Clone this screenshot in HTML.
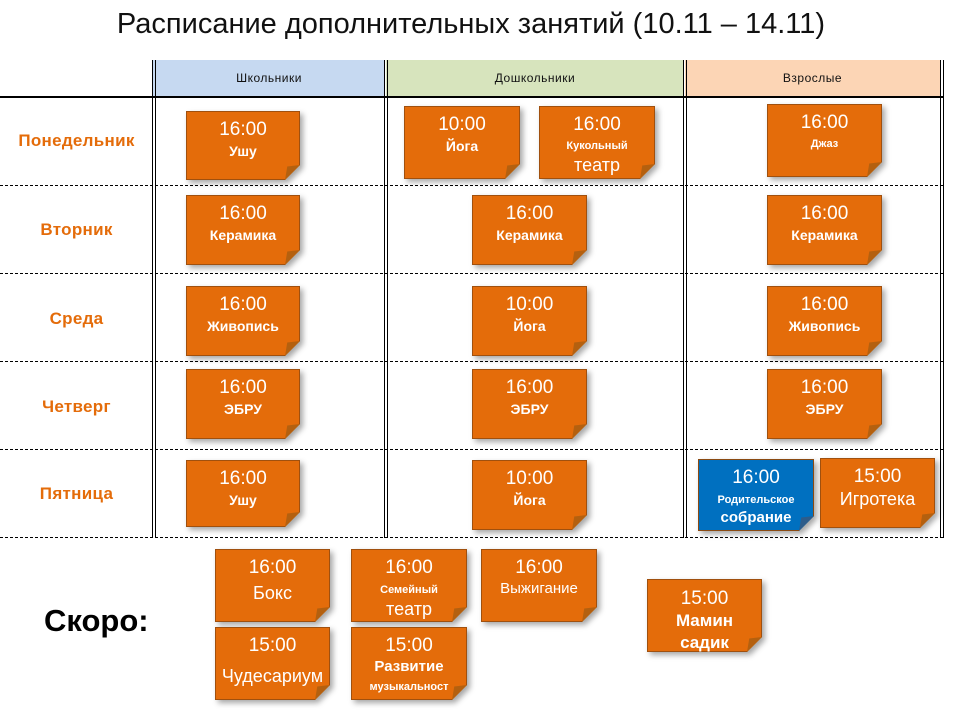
<!DOCTYPE html>
<html><head><meta charset="utf-8"><style>
body{margin:0;width:960px;height:720px;background:#fff;position:relative;overflow:hidden;font-family:"Liberation Sans","DejaVu Sans",sans-serif}
.a{position:absolute}
.title{left:-9px;width:960px;top:8px;text-align:center;font-size:29px;color:#111}
.hd{top:60px;height:37px;font-size:12px;text-align:center;line-height:37px;color:#111;letter-spacing:.5px}
.vl{width:1px;background:#000}
.dl{height:0;border-top:1px dashed #000;left:0;width:943px}
.day{left:0;width:153px;text-align:center;color:#e46c0a;font-weight:bold;font-size:17px;letter-spacing:.3px}
.w{position:absolute;filter:drop-shadow(3px 3px 3px rgba(0,0,0,.35))}
.n{position:absolute;inset:0;background:#e46c0a;border:1px solid #a0500e;box-sizing:border-box;clip-path:polygon(0 0,100% 0,100% calc(100% - 15px),calc(100% - 15px) 100%,0 100%);color:#fff;text-align:center}
.n.b{background:#0070c0;border-color:#8a4a12}
.f2{position:absolute;right:0;bottom:0;width:15px;height:15px;background:#b4600f;clip-path:polygon(100% 0,0 100%,15% 10%)}
.t{font-size:19px;margin-top:7px;line-height:22px}
.l{font-size:14px;font-weight:bold;line-height:20px}
.s{font-size:11px;font-weight:bold;line-height:16px}
.big{font-size:18px;line-height:22px;font-weight:normal}
</style></head><body>
<div class="a title">Расписание дополнительных занятий (10.11 – 14.11)</div>
<div class="a hd" style="left:153px;width:232px;background:#c6d9f1">Школьники</div>
<div class="a hd" style="left:386px;width:298px;background:#d7e4bd">Дошкольники</div>
<div class="a hd" style="left:685px;width:255px;background:#fcd5b5">Взрослые</div>
<div class="a" style="left:0;top:96px;width:943px;height:2px;background:#000"></div>
<div class="a vl" style="left:152px;top:60px;height:478px"></div>
<div class="a vl" style="left:155px;top:60px;height:478px"></div>
<div class="a vl" style="left:384px;top:60px;height:478px"></div>
<div class="a vl" style="left:387px;top:60px;height:478px"></div>
<div class="a vl" style="left:683px;top:60px;height:478px"></div>
<div class="a vl" style="left:686px;top:60px;height:478px"></div>
<div class="a vl" style="left:940px;top:60px;height:478px"></div>
<div class="a vl" style="left:943px;top:60px;height:478px"></div>
<div class="a dl" style="top:185px"></div>
<div class="a dl" style="top:273px"></div>
<div class="a dl" style="top:361px"></div>
<div class="a dl" style="top:449px"></div>
<div class="a dl" style="top:537px"></div>
<div class="a day" style="top:131px">Понедельник</div>
<div class="a day" style="top:220px">Вторник</div>
<div class="a day" style="top:309px">Среда</div>
<div class="a day" style="top:397px">Четверг</div>
<div class="a day" style="top:484px">Пятница</div>
<div class="a" style="left:44px;top:603px;font-size:31px;font-weight:bold;color:#000">Скоро:</div>

<div class="w" style="left:186px;top:111px;width:114px;height:69px"><div class="n"><div class="t">16:00</div><div class="l">Ушу</div></div><div class="f2"></div></div>
<div class="w" style="left:404px;top:106px;width:116px;height:73px"><div class="n"><div class="t">10:00</div><div class="l">Йога</div></div><div class="f2"></div></div>
<div class="w" style="left:539px;top:106px;width:116px;height:73px"><div class="n"><div class="t">16:00</div><div class="s" style="margin-top:2px">Кукольный</div><div class="big">театр</div></div><div class="f2"></div></div>
<div class="w" style="left:767px;top:104px;width:115px;height:73px"><div class="n"><div class="t">16:00</div><div class="s" style="margin-top:2px">Джаз</div></div><div class="f2"></div></div>

<div class="w" style="left:186px;top:195px;width:114px;height:70px"><div class="n"><div class="t">16:00</div><div class="l">Керамика</div></div><div class="f2"></div></div>
<div class="w" style="left:472px;top:195px;width:115px;height:70px"><div class="n"><div class="t">16:00</div><div class="l">Керамика</div></div><div class="f2"></div></div>
<div class="w" style="left:767px;top:195px;width:115px;height:70px"><div class="n"><div class="t">16:00</div><div class="l">Керамика</div></div><div class="f2"></div></div>

<div class="w" style="left:186px;top:286px;width:114px;height:70px"><div class="n"><div class="t">16:00</div><div class="l">Живопись</div></div><div class="f2"></div></div>
<div class="w" style="left:472px;top:286px;width:115px;height:70px"><div class="n"><div class="t">10:00</div><div class="l">Йога</div></div><div class="f2"></div></div>
<div class="w" style="left:767px;top:286px;width:115px;height:70px"><div class="n"><div class="t">16:00</div><div class="l">Живопись</div></div><div class="f2"></div></div>

<div class="w" style="left:186px;top:369px;width:114px;height:70px"><div class="n"><div class="t">16:00</div><div class="l">ЭБРУ</div></div><div class="f2"></div></div>
<div class="w" style="left:472px;top:369px;width:115px;height:70px"><div class="n"><div class="t">16:00</div><div class="l">ЭБРУ</div></div><div class="f2"></div></div>
<div class="w" style="left:767px;top:369px;width:115px;height:70px"><div class="n"><div class="t">16:00</div><div class="l">ЭБРУ</div></div><div class="f2"></div></div>

<div class="w" style="left:186px;top:460px;width:114px;height:67px"><div class="n"><div class="t">16:00</div><div class="l">Ушу</div></div><div class="f2"></div></div>
<div class="w" style="left:472px;top:460px;width:115px;height:70px"><div class="n"><div class="t">10:00</div><div class="l">Йога</div></div><div class="f2"></div></div>
<div class="w" style="left:698px;top:459px;width:116px;height:72px"><div class="n b"><div class="t">16:00</div><div class="s" style="margin-top:3px">Родительское</div><div class="l" style="font-size:15px">собрание</div></div><div class="f2" style="background:#2d5c8a"></div></div>
<div class="w" style="left:820px;top:458px;width:115px;height:70px"><div class="n"><div class="t">15:00</div><div class="big">Игротека</div></div><div class="f2"></div></div>

<div class="w" style="left:215px;top:549px;width:115px;height:73px"><div class="n"><div class="t">16:00</div><div class="big" style="margin-top:3px">Бокс</div></div><div class="f2"></div></div>
<div class="w" style="left:351px;top:549px;width:116px;height:73px"><div class="n"><div class="t">16:00</div><div class="s" style="margin-top:3px">Семейный</div><div class="big">театр</div></div><div class="f2"></div></div>
<div class="w" style="left:481px;top:549px;width:116px;height:73px"><div class="n"><div class="t">16:00</div><div class="l" style="font-weight:normal;font-size:15px">Выжигание</div></div><div class="f2"></div></div>
<div class="w" style="left:647px;top:579px;width:115px;height:73px"><div class="n"><div class="t" style="margin-top:8px">15:00</div><div class="big" style="font-weight:bold;font-size:17px">Мамин<br>садик</div></div><div class="f2"></div></div>
<div class="w" style="left:215px;top:627px;width:115px;height:73px"><div class="n"><div class="t">15:00</div><div class="big" style="margin-top:8px">Чудесариум</div></div><div class="f2"></div></div>
<div class="w" style="left:351px;top:627px;width:116px;height:73px"><div class="n"><div class="t">15:00</div><div class="l" style="font-size:15px">Развитие</div><div class="s" style="margin-top:2px">музыкальност</div></div><div class="f2"></div></div>
</body></html>
